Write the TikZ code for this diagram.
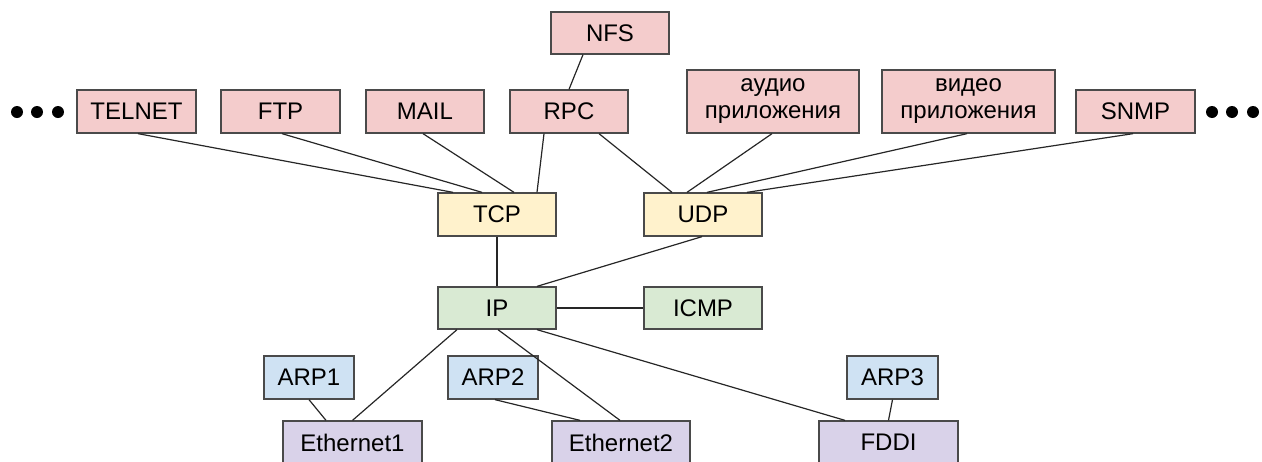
\documentclass[tikz,border=0pt]{standalone}
\usepackage{fontspec}
\setmainfont{Liberation Sans}
\definecolor{appc}{HTML}{F4CCCC}
\definecolor{trc}{HTML}{FFF2CC}
\definecolor{netc}{HTML}{D9EAD3}
\definecolor{arpc}{HTML}{CFE2F3}
\definecolor{linkc}{HTML}{D9D2E9}
\definecolor{edgec}{HTML}{4A4A4A}
\begin{document}
\begin{tikzpicture}[x=1pt,y=-1pt,
  box/.style={draw=edgec,line width=1.3pt,inner sep=0pt,align=center,
    font=\fontsize{24}{27}\selectfont,minimum height=43pt},
  app/.style={box,fill=appc},
  tr/.style={box,fill=trc},
  net/.style={box,fill=netc},
  arp/.style={box,fill=arpc},
  lnk/.style={box,fill=linkc},
  conn/.style={draw=black!85,line width=1.2pt},
  dot/.style={circle,fill=black,inner sep=0pt,minimum size=12pt}]
\useasboundingbox (0,0) rectangle (1262,461);
\clip (0,0) rectangle (1262,461);
% application layer
\node[app,minimum width=119pt] (telnet) at (136.5,111.5) {TELNET};
\node[app,minimum width=119pt] (ftp) at (280.5,111.5) {FTP};
\node[app,minimum width=118pt] (mail) at (425,111.5) {MAIL};
\node[app,minimum width=118pt] (rpc) at (569,111.5) {RPC};
\node[app,minimum width=118pt,minimum height=42pt] (nfs) at (610,33) {NFS};
\node[app,minimum width=172pt,minimum height=63pt] (audio) at (773,101.5) {аудио\\приложения};
\node[app,minimum width=173pt,minimum height=63pt] (video) at (968.5,101.5) {видео\\приложения};
\node[app,minimum width=119pt] (snmp) at (1135.5,111.5) {SNMP};
% dots
\node[dot] (l1) at (17,112) {};
\node[dot] (l2) at (37,112) {};
\node[dot] (l3) at (58,112) {};
\node[dot] (r1) at (1212,112) {};
\node[dot] (r2) at (1232,112) {};
\node[dot] (r3) at (1253,112) {};
% transport
\node[tr,minimum width=118pt] (tcp) at (497,214.5) {TCP};
\node[tr,minimum width=118pt] (udp) at (703,214.5) {UDP};
% network
\node[net,minimum width=118pt,minimum height=42pt] (ip) at (497,308) {IP};
\node[net,minimum width=118pt,minimum height=42pt] (icmp) at (703,308) {ICMP};
% arp
\node[arp,minimum width=90pt] (arp1) at (309,377.5) {ARP1};
\node[arp,minimum width=90pt] (arp2) at (493,377.5) {ARP2};
\node[arp,minimum width=91pt] (arp3) at (892.5,377.5) {ARP3};
% link
\node[lnk,minimum width=139pt] (eth1) at (352.5,442.5) {Ethernet1};
\node[lnk,minimum width=138pt] (eth2) at (621,442.5) {Ethernet2};
\node[lnk,minimum width=139pt] (fddi) at (888.5,442.5) {FDDI};
% connectors
\draw[conn] ([xshift=1.5pt]telnet.south) -- ([xshift=-44pt]tcp.north);
\draw[conn] ([xshift=1.5pt]ftp.south) -- ([xshift=-15pt]tcp.north);
\draw[conn] ([xshift=-2pt]mail.south) -- ([xshift=17pt]tcp.north);
\draw[conn] ([xshift=-25pt]rpc.south) -- ([xshift=40pt]tcp.north);
\draw[conn] ([xshift=30pt]rpc.south) -- ([xshift=-31pt]udp.north);
\draw[conn] ([xshift=-1pt]audio.south) -- ([xshift=-16pt]udp.north);
\draw[conn] ([xshift=-1.5pt]video.south) -- ([xshift=4pt]udp.north);
\draw[conn] ([xshift=-2.5pt]snmp.south) -- ([xshift=44pt]udp.north);
\draw[conn] ([xshift=-27pt]nfs.south) -- (rpc.north);
\draw[conn] (tcp.south) -- (ip.north);
\draw[conn] ([xshift=-1pt]udp.south) -- ([xshift=40pt]ip.north);
\draw[conn] (ip.east) -- (icmp.west);
\draw[conn] ([xshift=-40pt]ip.south) -- (eth1.north);
\draw[conn] ([xshift=1pt]ip.south) -- ([xshift=-1pt]eth2.north);
\draw[conn] ([xshift=40pt]ip.south) -- ([xshift=-43.5pt]fddi.north);
\draw[conn] (arp1.south) -- ([xshift=-26.5pt]eth1.north);
\draw[conn] ([xshift=2pt]arp2.south) -- ([xshift=-41pt]eth2.north);
\draw[conn] (arp3.south) -- (fddi.north);
\end{tikzpicture}
\end{document}
